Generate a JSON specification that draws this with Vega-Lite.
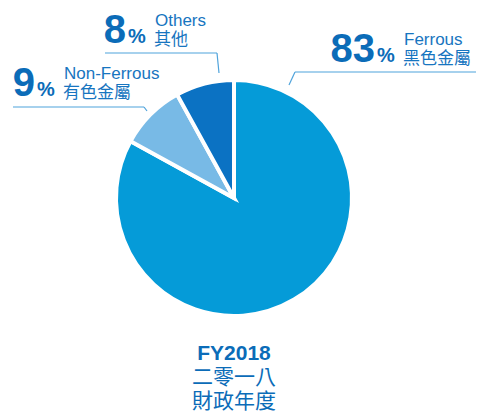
{
  "$schema": "https://vega.github.io/schema/vega-lite/v6.json",
  "width": 468,
  "height": 396,
  "autosize": {"type": "none"},
  "padding": {"left": 0, "top": 0, "right": 9, "bottom": 19},
  "background": "white",
  "config": {"view": {"stroke": null}},
  "datasets": {
    "share": [
      {"cat": "Ferrous", "zh": "黑色金屬", "pct": 83, "num": "83", "o": 1, "ax": 376, "ay": 62},
      {"cat": "Non-Ferrous", "zh": "有色金屬", "pct": 9, "num": "9", "o": 2, "ax": 36, "ay": 96},
      {"cat": "Others", "zh": "其他", "pct": 8, "num": "8", "o": 3, "ax": 127, "ay": 43}
    ],
    "leaders": [
      {"x": 289, "y": 85, "x2": 295, "y2": 72},
      {"x": 295, "y": 72, "x2": 476, "y2": 72},
      {"x": 105, "y": 53, "x2": 217, "y2": 53},
      {"x": 217, "y": 53, "x2": 219, "y2": 73},
      {"x": 13, "y": 107, "x2": 144, "y2": 107},
      {"x": 144, "y": 107, "x2": 147, "y2": 111}
    ],
    "fy": [
      {"t": "FY2018", "bx": 234, "by": 360}
    ],
    "title": [
      {"t": "二零一八", "bx": 234, "by": 384},
      {"t": "財政年度", "bx": 234, "by": 408}
    ]
  },
  "layer": [
    {
      "data": {"name": "share"},
      "mark": {"type": "arc", "outerRadius": 118, "stroke": "white", "strokeWidth": 4},
      "encoding": {
        "theta": {"field": "pct", "type": "quantitative", "stack": true},
        "order": {"field": "o", "type": "quantitative"},
        "color": {
          "field": "cat", "type": "nominal", "legend": null,
          "scale": {"domain": ["Ferrous", "Non-Ferrous", "Others"], "range": ["#059bd8", "#78bae6", "#0b72c3"]}
        }
      }
    },
    {
      "data": {"name": "leaders"},
      "mark": {"type": "rule", "color": "#4fa3db", "strokeWidth": 1.2},
      "encoding": {
        "x": {"field": "x", "type": "quantitative", "scale": {"domain": [0, 468], "nice": false, "zero": false}, "axis": null},
        "y": {"field": "y", "type": "quantitative", "scale": {"domain": [0, 396], "nice": false, "zero": false, "reverse": true}, "axis": null},
        "x2": {"field": "x2"},
        "y2": {"field": "y2"}
      }
    },
    {
      "data": {"name": "share"},
      "mark": {"type": "text", "align": "right", "baseline": "alphabetic", "dx": -1, "font": "Liberation Sans", "fontWeight": "bold", "fontSize": 40, "color": "#0b6cb8"},
      "encoding": {
        "x": {"field": "ax", "type": "quantitative"},
        "y": {"field": "ay", "type": "quantitative"},
        "text": {"field": "num"}
      }
    },
    {
      "data": {"name": "share"},
      "mark": {"type": "text", "align": "left", "baseline": "alphabetic", "dx": 1, "font": "Liberation Sans", "fontWeight": 600, "fontSize": 20, "color": "#0b6cb8"},
      "encoding": {
        "x": {"field": "ax", "type": "quantitative"},
        "y": {"field": "ay", "type": "quantitative"},
        "text": {"value": "%"}
      }
    },
    {
      "data": {"name": "share"},
      "mark": {"type": "text", "align": "left", "baseline": "alphabetic", "dx": 28, "dy": -17, "font": "Liberation Sans", "fontSize": 17, "color": "#1775c0"},
      "encoding": {
        "x": {"field": "ax", "type": "quantitative"},
        "y": {"field": "ay", "type": "quantitative"},
        "text": {"field": "cat"}
      }
    },
    {
      "data": {"name": "share"},
      "mark": {"type": "text", "align": "left", "baseline": "alphabetic", "dx": 27, "dy": 2, "font": "Noto Sans CJK TC", "fontSize": 17, "color": "#1775c0"},
      "encoding": {
        "x": {"field": "ax", "type": "quantitative"},
        "y": {"field": "ay", "type": "quantitative"},
        "text": {"field": "zh"}
      }
    },
    {
      "data": {"name": "fy"},
      "mark": {"type": "text", "align": "center", "baseline": "alphabetic", "font": "Liberation Sans", "fontWeight": "bold", "fontSize": 21, "color": "#0b6cb8"},
      "encoding": {
        "x": {"field": "bx", "type": "quantitative"},
        "y": {"field": "by", "type": "quantitative"},
        "text": {"field": "t"}
      }
    },
    {
      "data": {"name": "title"},
      "mark": {"type": "text", "align": "center", "baseline": "alphabetic", "font": "Noto Sans CJK TC", "fontSize": 21, "color": "#0b6cb8"},
      "encoding": {
        "x": {"field": "bx", "type": "quantitative"},
        "y": {"field": "by", "type": "quantitative"},
        "text": {"field": "t"}
      }
    }
  ]
}
